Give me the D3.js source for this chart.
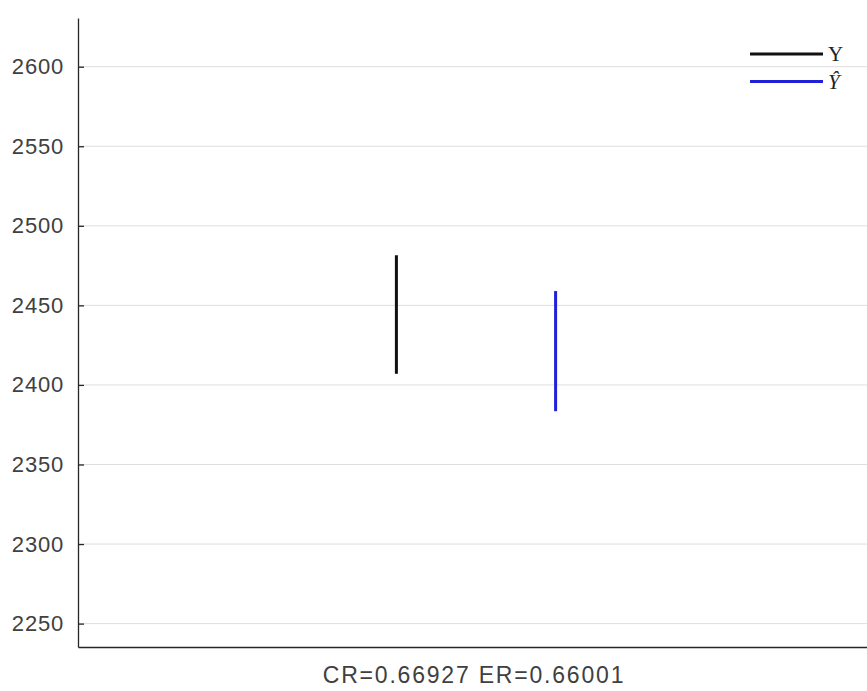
<!DOCTYPE html>
<html>
<head>
<meta charset="utf-8">
<script src="https://cdn.jsdelivr.net/npm/d3@7"></script>
<style>
  body { margin: 0; background: #fff; }
  svg { display: block; }
</style>
</head>
<body>
<div id="chart"></div>
<script>
// chart values
var seriesNames = ["Y", "\u0176"];
var seriesColors = ["#111111", "#2020d8"];
var xPositions = [0.4, 0.6];
var yLow = [2407, 2383.5];
var yHigh = [2481.5, 2459];
var yTicks = [2250, 2300, 2350, 2400, 2450, 2500, 2550, 2600];
var xLabel = "CR=0.66927 ER=0.66001";

var full_width = 867, full_height = 691;
var margin = {top: 18, left: 78, bottom: 44, right: -7};
var width = full_width - margin.left - margin.right;
var height = full_height - margin.top - margin.bottom;

var svg = d3.select("#chart")
  .append("svg")
    .attr("width", full_width)
    .attr("height", full_height)
  .append("g")
    .attr("transform", "translate(" + margin.left + "," + margin.top + ")");

var xScale = d3.scaleLinear().domain([0, 1]).range([0, width]);
var yScale = d3.scaleLinear().domain([2235.3, 2630.6]).range([height, 0]);

// grid lines
svg.append("g")
  .selectAll("line")
  .data(yTicks)
  .enter()
  .append("line")
    .attr("x1", 0)
    .attr("x2", width)
    .attr("y1", d => yScale(d))
    .attr("y2", d => yScale(d))
    .style("stroke", "#dedede")
    .style("stroke-width", 1);

// y axis, ticks pointing inward
var yAxis = svg.append("g")
  .call(d3.axisLeft(yScale)
          .tickValues(yTicks)
          .tickFormat(d3.format("d"))
          .tickSize(-6)
          .tickPadding(14)
          .tickSizeOuter(0));
yAxis.select(".domain").style("stroke", "#262626").style("stroke-width", 1.3);
yAxis.selectAll(".tick line").style("stroke", "#262626").style("stroke-width", 1.3);
yAxis.selectAll(".tick text")
  .style("font", "22px 'Liberation Sans', Arial, sans-serif")
  .style("letter-spacing", "0.8px")
  .style("fill", "#404040");

// x axis, no ticks
var xAxis = svg.append("g")
  .attr("transform", "translate(0," + height + ")")
  .call(d3.axisBottom(xScale).tickValues([]).tickSizeOuter(0));
xAxis.select(".domain").style("stroke", "#262626").style("stroke-width", 1.3);

// x label
svg.append("text")
  .attr("x", xScale(0.5) - 2)
  .attr("y", height + 36)
  .style("text-anchor", "middle")
  .style("font", "23px 'Liberation Sans', Arial, sans-serif")
  .style("letter-spacing", "1.8px")
  .style("fill", "#404040")
  .text(xLabel);

// vertical segments
svg.selectAll(".seg")
  .data(xPositions)
  .enter()
  .append("line")
    .attr("class", "seg")
    .attr("x1", d => xScale(d))
    .attr("x2", d => xScale(d))
    .attr("y1", (d, i) => yScale(yLow[i]))
    .attr("y2", (d, i) => yScale(yHigh[i]))
    .style("stroke", (d, i) => seriesColors[i])
    .style("stroke-width", 3);

// legend
var legend = svg.append("g")
  .attr("transform", "translate(" + (750 - margin.left) + "," + (54 - margin.top) + ")");
seriesNames.forEach(function(name, i) {
  legend.append("line")
    .attr("x1", 0)
    .attr("x2", 73)
    .attr("y1", i * 27.5)
    .attr("y2", i * 27.5)
    .style("stroke", seriesColors[i])
    .style("stroke-width", 3);
  legend.append("text")
    .attr("x", 78)
    .attr("y", i * 27.5 + 7)
    .style("font", (i == 1 ? "italic " : "") + "21px 'Liberation Serif', 'DejaVu Serif', serif")
    .style("fill", "#222")
    .text(name);
});
</script>
</body>
</html>
